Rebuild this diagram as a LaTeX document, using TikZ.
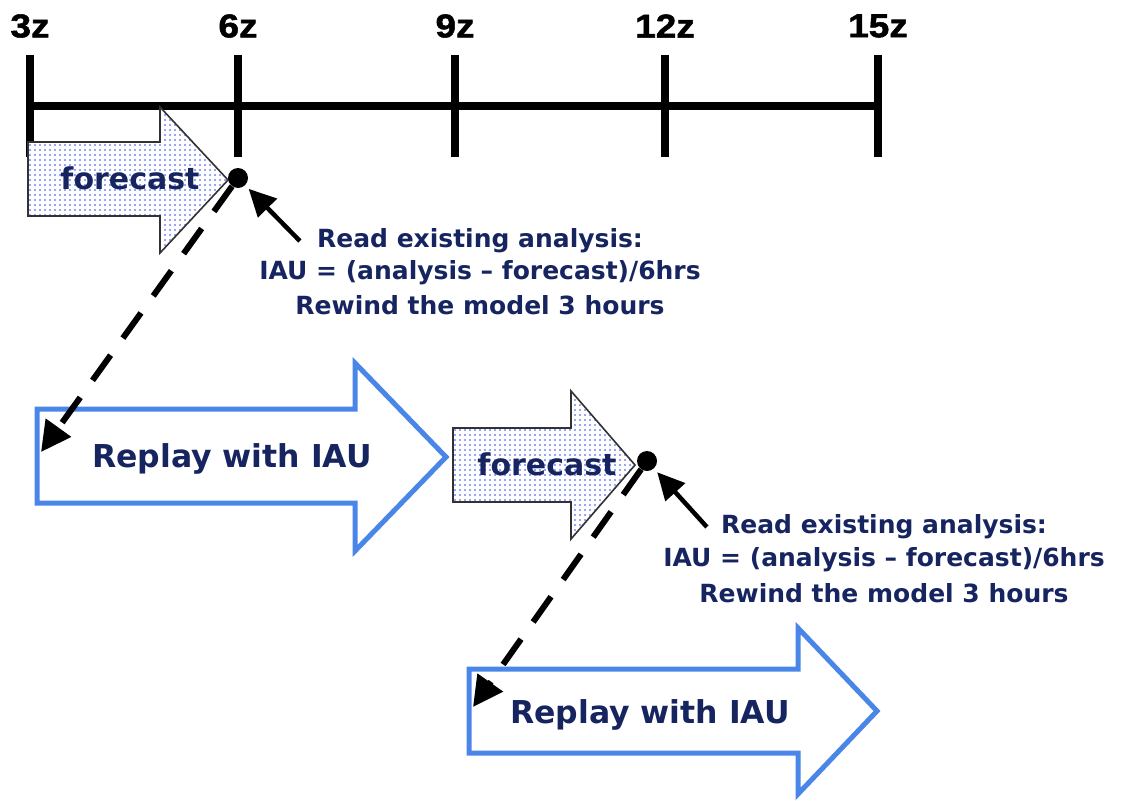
\documentclass[tikz,border=0pt]{standalone}
\usepackage{fontspec}
\setmainfont{DejaVu Sans}
\newfontfamily\notefont{DejaVu Sans}
\newfontfamily\tickfont[FakeBold=1.6,FakeStretch=1.12]{Liberation Sans}
\usetikzlibrary{arrows.meta,patterns.meta}

\definecolor{navy}{RGB}{22,36,96}
\definecolor{replayblue}{RGB}{74,134,232}
\definecolor{dotblue}{RGB}{45,75,240}
\definecolor{edgegray}{RGB}{50,50,50}

% small blue dots used to fill the forecast arrows
\tikzdeclarepattern{
  name=bluedots,
  type=uncolored,
  bottom left={(-1pt,-1pt)},
  top right={(6pt,6pt)},
  tile size={(5pt,5pt)},
  code={\fill (0pt,0pt) circle (0.9pt);}
}

\tikzset{
  axis/.style={line width=8pt},
  ticklabel/.style={font=\tickfont\bfseries\fontsize{33}{33}\selectfont, inner sep=0pt},
  forecastarrow/.style={draw=edgegray, line width=1.6pt, preaction={fill=white},
    pattern={bluedots}, pattern color=dotblue},
  replayarrow/.style={draw=replayblue, line width=5pt, fill=white, line join=miter},
  boxtext/.style={text=navy, font=\notefont\bfseries\fontsize{30}{30}\selectfont, inner sep=0pt},
  replaytext/.style={text=navy, font=\notefont\bfseries\fontsize{31.5}{31.5}\selectfont, inner sep=0pt},
  notetext/.style={text=navy, font=\notefont\bfseries\fontsize{25}{25}\selectfont, inner sep=0pt},
  analysisdot/.style={circle, fill=black, minimum size=20pt, inner sep=0pt},
  pointer/.style={line width=4.5pt, -{Triangle[length=27pt,width=26pt]}, shorten >=5pt},
  rewindline/.style={line width=6pt, dash pattern=on 31pt off 21pt,
    -{Triangle[length=30pt,width=30pt]}},
}

\begin{document}
\begin{tikzpicture}[x=1pt,y=-1pt]
\useasboundingbox (0,0) rectangle (1123,800);

% time axis with hour ticks
\draw[axis] (30,106) -- (878,106);
\foreach \x/\lab in {30/3z,238/6z,455/9z,665/12z,878/15z}{
  \draw[axis] (\x,55) -- (\x,157);
  \node[ticklabel] (t\lab) at (\x,26) {\lab};
}

% first forecast
\draw[forecastarrow] (28,142) -- (160,142) -- (160,107) -- (228,180)
  -- (160,253) -- (160,216) -- (28,216) -- cycle;
\node[boxtext] (fcA) at (130,178) {forecast};

% first replay
\draw[replayarrow] (37,409) -- (355,409) -- (355,363) -- (446,457)
  -- (355,551) -- (355,503) -- (37,503) -- cycle;
\node[replaytext] (rpA) at (232,459) {Replay with IAU};

% second forecast
\draw[forecastarrow] (453,428) -- (571,428) -- (571,391) -- (635,465)
  -- (571,539) -- (571,502) -- (453,502) -- cycle;
\node[boxtext] (fcB) at (547,464) {forecast};

% second replay
\draw[replayarrow] (469,669) -- (798,669) -- (798,628) -- (877,711)
  -- (798,794) -- (798,753) -- (469,753) -- cycle;
\node[replaytext] (rpB) at (650,715) {Replay with IAU};

% analysis points
\node[analysisdot] (dotA) at (238,178) {};
\node[analysisdot] (dotB) at (647,461) {};

% notes
\node[notetext] (readA)   at (480,241) {Read existing analysis:};
\node[notetext] (iauA)    at (480,273) {IAU = (analysis – forecast)/6hrs};
\node[notetext] (rewindA) at (480,305) {Rewind the model 3 hours};

\node[notetext] (readB)   at (884,527) {Read existing analysis:};
\node[notetext] (iauB)    at (884,560) {IAU = (analysis – forecast)/6hrs};
\node[notetext] (rewindB) at (884,593) {Rewind the model 3 hours};

\draw[pointer] ([xshift=-17pt]readA.west) -- (dotA);
\draw[pointer] ([xshift=-14pt]readB.west) -- (dotB);

% rewinding back three hours
\coordinate (landA) at (41,452);
\coordinate (landB) at (473,707);
\draw[rewindline] (dotA) -- (landA);
\draw[rewindline] (dotB) -- (landB);
\end{tikzpicture}
\end{document}
